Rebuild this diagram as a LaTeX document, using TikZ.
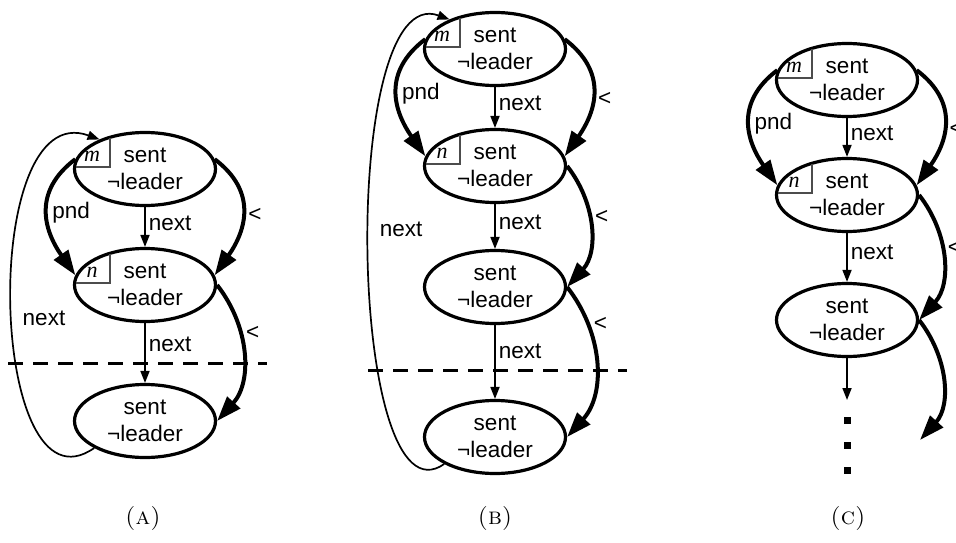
\documentclass[tikz,border=0pt]{standalone}
\usepackage{fontspec}
\newfontfamily\sansfont{Liberation Sans}
\newfontfamily\varfont{Liberation Serif}
\usetikzlibrary{arrows.meta, shapes.geometric, calc}

\tikzset{
	state/.style = {ellipse, draw, line width = 3.2pt, minimum width = 141pt, minimum height = 73pt,
		inner sep = 0pt, align = center, font = \sansfont\fontsize{22.5}{27}\selectfont},
	lbl/.style = {font = \sansfont\fontsize{22.5}{26}\selectfont, inner sep = 0pt},
	varlbl/.style = {font = \varfont\itshape\fontsize{22}{24}\selectfont, inner sep = 0pt},
	corner/.style = {draw = black!70, line width = 1.3pt},
	nextarr/.style = {-{Triangle[length = 12pt, width = 9pt]}, line width = 1.7pt},
	lessarr/.style = {-{Triangle[length = 25pt, width = 17pt]}, line width = 4pt},
	cutline/.style = {line width = 3pt, dash pattern = on 15pt off 10pt},
	caption/.style = {font = \fontsize{24}{28}\selectfont, inner sep = 0pt}
}

\begin{document}
\begin{tikzpicture}[x = 1pt, y = 1pt]

	\useasboundingbox (0, 0) rectangle (956, 542);
	\clip (0, 0) rectangle (956, 542);

	% (A): three cells, cut below the second
	
	\node [state] (a1) at (145, 373) {sent\\¬leader};
	\node [state] (a2) at (145, 257) {sent\\¬leader};
	\node [state] (a3) at (145, 121) {sent\\¬leader};
	
	\draw [nextarr] (a1) -- node [lbl, right = 3pt, pos = 0.4] (a-next1) {next} (a2);
	\draw [nextarr] (a2) -- node [lbl, right = 3pt, pos = 0.35] (a-next2) {next} (a3);
	
	\draw [lessarr] (a1.172) to [out = 217, in = 125, looseness = 1.2] node [lbl, right = 3pt] (a-pnd) {pnd} (a2.172);
	\draw [lessarr] (a1.8) to [out = -37, in = 55, looseness = 1.2] node [lbl, right = 4pt, pos = 0.52] (a-less1) {<} (a2.8);
	\draw [lessarr] (a2.east) to [out = -52, in = 48] node [lbl, right = 4pt, pos = 0.35] (a-less2) {<} (a3.east);
	
	\draw [nextarr] (a3.208) to [out = 215, in = 160, looseness = 1.07] node [lbl, right = 10pt, pos = 0.475] (a-loop) {next} (a1.147);
	
	\draw [cutline] (8, 179) -- (267, 179);
	
	\node [caption] (cap-a) at (143, 24) {\textsc{(a)}};

	% (B): four cells, cut below the third
	
	\node [state] (b1) at (495, 493) {sent\\¬leader};
	\node [state] (b2) at (495, 376) {sent\\¬leader};
	\node [state] (b3) at (495, 255) {sent\\¬leader};
	\node [state] (b4) at (495, 105) {sent\\¬leader};
	
	\draw [nextarr] (b1) -- node [lbl, right = 3pt, pos = 0.4] (b-next1) {next} (b2);
	\draw [nextarr] (b2) -- node [lbl, right = 3pt, pos = 0.4] (b-next2) {next} (b3);
	\draw [nextarr] (b3) -- node [lbl, right = 3pt, pos = 0.35] (b-next3) {next} (b4);
	
	\draw [lessarr] (b1.172) to [out = 217, in = 125, looseness = 1.2] node [lbl, right = 3pt] (b-pnd) {pnd} (b2.172);
	\draw [lessarr] (b1.8) to [out = -37, in = 55, looseness = 1.2] node [lbl, right = 4pt, pos = 0.55] (b-less1) {<} (b2.8);
	\draw [lessarr] (b2.east) to [out = -52, in = 48] node [lbl, right = 4pt, pos = 0.42] (b-less2) {<} (b3.east);
	\draw [lessarr] (b3.east) to [out = -52, in = 48] node [lbl, right = 4pt, pos = 0.25] (b-less3) {<} (b4.east);
	
	\draw [nextarr] (b4.208) to [out = 215, in = 160, looseness = 0.68] node [lbl, right = 10pt, pos = 0.53] (b-loop) {next} (b1.147);
	
	\draw [cutline] (368, 172) -- (627, 172);
	
	\node [caption] (cap-b) at (495, 24) {\textsc{(b)}};

	% (C): open list
	
	\node [state] (c1) at (847, 462) {sent\\¬leader};
	\node [state] (c2) at (847, 347) {sent\\¬leader};
	\node [state] (c3) at (847, 222) {sent\\¬leader};
	
	\coordinate (c-stop) at (847, 142);
	\coordinate (c-end) at (920, 102);
	
	\draw [nextarr] (c1) -- node [lbl, right = 3pt, pos = 0.4] (c-next1) {next} (c2);
	\draw [nextarr] (c2) -- node [lbl, right = 3pt, pos = 0.4] (c-next2) {next} (c3);
	\draw [nextarr] (c3) -- (c-stop);
	
	\draw [lessarr] (c1.172) to [out = 217, in = 125, looseness = 1.2] node [lbl, right = 3pt] (c-pnd) {pnd} (c2.172);
	\draw [lessarr] (c1.8) to [out = -37, in = 55, looseness = 1.2] node [lbl, right = 4pt, pos = 0.55] (c-less1) {<} (c2.8);
	\draw [lessarr] (c2.east) to [out = -52, in = 48] node [lbl, right = 4pt, pos = 0.42] (c-less2) {<} (c3.east);
	\draw [lessarr] (c3.east) to [out = -52, in = 48] (c-end);
	
	\foreach \y in {122, 97, 72}
		\fill (847.5, \y) +(-3.5, -3.5) rectangle +(3.5, 3.5);
	
	\node [caption] (cap-c) at (848, 24) {\textsc{(c)}};

	% Variable corners
	
	\foreach \nd/\var in {a1/m, a2/n, b1/m, b2/n, c1/m, c2/n} {
		\draw [corner] ($(\nd.center) + (-35, 31)$) |- ($(\nd.center) + (-69, 2)$);
		\node [varlbl] (\nd-var) at ($(\nd.center) + (-53, 13)$) {\var};
	}

\end{tikzpicture}
\end{document}
